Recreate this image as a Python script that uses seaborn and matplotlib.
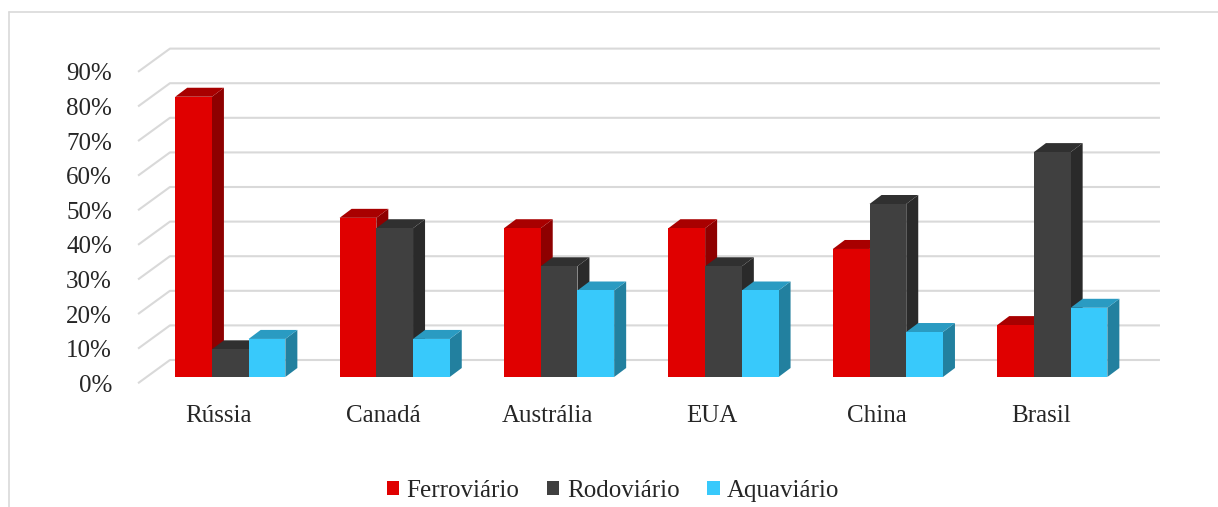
import matplotlib
matplotlib.use("Agg")
import matplotlib.pyplot as plt
from matplotlib.patches import Polygon, Patch
from matplotlib.lines import Line2D
import pandas as pd
import seaborn as sns

# dados (%)
paises = ["Rússia", "Canadá", "Austrália", "EUA", "China", "Brasil"]
modos = ["Ferroviário", "Rodoviário", "Aquaviário"]
ferroviario = [81, 46, 43, 43, 37, 15]
rodoviario = [8, 43, 32, 32, 50, 65]
aquaviario = [11, 11, 25, 25, 13, 20]
yticks = list(range(0, 100, 10))

# cores: frente, lado, topo
cor_frente = ["#e00000", "#404040", "#38c9fb"]
cor_lado = ["#8e0000", "#2a2a2a", "#22809f"]
cor_topo = ["#a80000", "#303030", "#2a9bc2"]

df = pd.DataFrame({
    "pais": paises * 3,
    "modo": [m for m in modos for _ in paises],
    "valor": ferroviario + rodoviario + aquaviario,
})

sns.set_style("white")
plt.rcParams["font.family"] = ["Liberation Serif", "DejaVu Serif"]

fig = plt.figure(figsize=(12.18, 5.07), dpi=100)
ax = fig.add_axes([130 / 1218, 117 / 507, 1040 / 1218, 350 / 507])

# profundidade (efeito 3D) em unidades de dados
dx_bar, dy_bar = 0.073, 2.6
x_frente, x_fundo, x_dir = -0.561, -0.367, 5.655
y_frente, y_fundo = -1.8, 4.91

# grade em perspectiva
for v in yticks:
    ax.plot([x_frente, x_fundo, x_dir], [v + y_frente, v + y_fundo, v + y_fundo],
            color="#d9d9d9", lw=1.5, zorder=1, solid_capstyle="butt")

sns.barplot(data=df, x="pais", y="valor", hue="modo", palette=cor_frente,
            width=0.67, saturation=1, dodge=True, legend=False, ax=ax,
            linewidth=0, errorbar=None)

hex_idx = {matplotlib.colors.to_hex(c): i for i, c in enumerate(cor_frente)}
barras = [p for p in ax.patches if p.get_height() > 0]
barras.sort(key=lambda p: p.get_x())
for k, p in enumerate(barras):
    i = hex_idx[matplotlib.colors.to_hex(p.get_facecolor())]
    x0, w, h = p.get_x(), p.get_width(), p.get_height()
    z = 3 + 3 * k
    lado = Polygon([(x0 + w, 0), (x0 + w + dx_bar, dy_bar),
                    (x0 + w + dx_bar, h + dy_bar), (x0 + w, h)],
                   closed=True, facecolor=cor_lado[i], edgecolor="none", zorder=z)
    topo = Polygon([(x0, h), (x0 + dx_bar, h + dy_bar),
                    (x0 + w + dx_bar, h + dy_bar), (x0 + w, h)],
                   closed=True, facecolor=cor_topo[i], edgecolor="none", zorder=z)
    ax.add_patch(lado)
    ax.add_patch(topo)
    p.set_zorder(z + 1)

ax.set_xlim(-0.610, 5.716)
ax.set_ylim(-3.76, 97.4)
ax.set_xticks([i - 0.07 for i in range(len(paises))], paises)
ax.set_yticks([v + y_frente for v in yticks], [f"{v}%" for v in yticks])
ax.tick_params(axis="y", length=0, pad=13, labelsize=18)
ax.tick_params(axis="x", length=0, pad=11, labelsize=18)
ax.set_xlabel("")
ax.set_ylabel("")
for s in ax.spines.values():
    s.set_visible(False)

# legenda
handles = [Patch(facecolor=c, edgecolor="none") for c in cor_frente]
fig.legend(handles, modos, loc="center", bbox_to_anchor=(613 / 1218, 1 - 491 / 507),
           ncol=3, frameon=False, fontsize=18, handlelength=0.5, handleheight=0.5,
           handletextpad=0.3, columnspacing=1.1, borderaxespad=0)

# moldura do gráfico
fig.add_artist(Line2D([9 / 1218, 1.0], [1 - 12 / 507, 1 - 12 / 507],
                      color="#d9d9d9", lw=1.2, transform=fig.transFigure))
fig.add_artist(Line2D([9 / 1218, 9 / 1218], [0, 1 - 12 / 507],
                      color="#d9d9d9", lw=1.2, transform=fig.transFigure))

fig.savefig("out.png", dpi=100)
